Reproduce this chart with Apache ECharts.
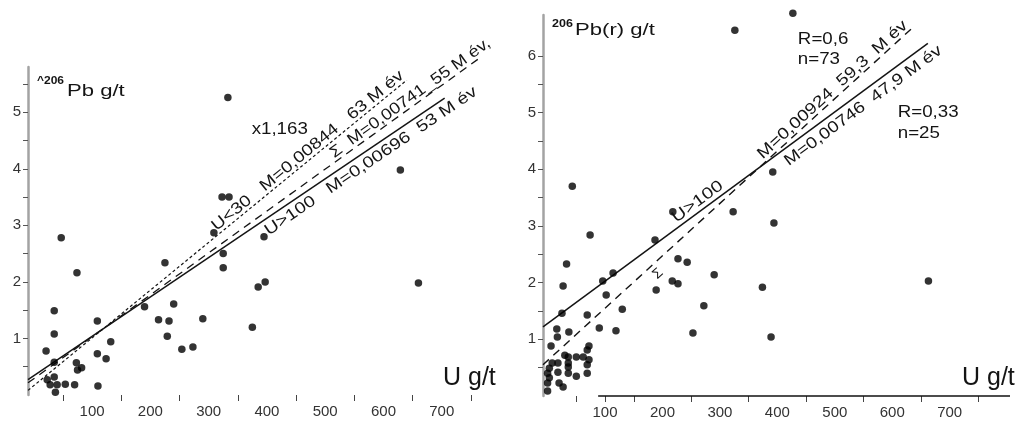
<!DOCTYPE html>
<html>
<head>
<meta charset="utf-8">
<script src="https://cdn.jsdelivr.net/npm/echarts@6/dist/echarts.min.js"></script>
<style>
  html, body { margin: 0; padding: 0; background: #fff; }
  #c { width: 1020px; height: 421px; }
</style>
</head>
<body>
<div id="c"></div>
<script>
// ---- data: left panel, 206Pb vs U (g/t) ----
const leftU  = [47, 74, 35, 35, 21, 35, 23, 28, 35, 37, 40, 54, 70, 73, 75, 82,
                109, 109, 110, 124, 132, 190, 214, 225, 232, 229, 240, 254, 273, 290,
                309, 325, 325, 375, 385, 397, 395, 660, 333, 323, 335, 629];
const leftPb = [2.78, 2.16, 1.49, 1.08, 0.78, 0.58, 0.27, 0.18, 0.32, 0.05, 0.18, 0.19, 0.18, 0.57, 0.44, 0.48,
                1.31, 0.73, 0.16, 0.64, 0.94, 1.56, 1.33, 2.34, 1.31, 1.04, 1.61, 0.81, 0.85, 1.35,
                2.87, 2.50, 2.25, 1.20, 1.91, 2.00, 2.80, 1.98, 5.26, 3.50, 3.50, 3.98];

// ---- data: right panel, radiogenic 206Pb vs U (g/t) ----
const rightU  = [218, 323, 394, 74, 187, 33, 27, 96, 114, 102, 290, 243, 227, 217, 227, 189, 374, 663,
                 272, 130, 25, 69, 253, 389, 119, 90, 37, 16, 17, 6, 72, 69, 30, 36, 50, 62, 72,
                 8, 18, 36, 69, 3, 18, 36, 36, 69, 50, 0, 3, 0, 20, 27, 0, 326, 427, 43, 392];
const rightPb = [3.25, 3.25, 3.05, 2.84, 2.75, 2.33, 1.94, 2.03, 2.17, 1.78, 2.14, 2.36, 2.42, 2.03, 1.98, 1.87, 1.92, 2.03,
                 1.59, 1.53, 1.46, 1.43, 1.11, 1.04, 1.15, 1.20, 1.13, 1.18, 1.04, 0.88, 0.88, 0.81, 0.72, 0.69, 0.69, 0.69, 0.64,
                 0.58, 0.58, 0.58, 0.55, 0.49, 0.42, 0.51, 0.40, 0.40, 0.35, 0.40, 0.32, 0.23, 0.23, 0.16, 0.09, 6.45, 6.75, 3.70, 3.95];

// ---- fitted lines: slope M from the labels, one point on each line, U span ----
const leftFitSlope  = [0.00844, 0.00741, 0.00696];   // U<30, Σ, U>100
const leftFitMidU   = [318, 378, 347.5];
const leftFitMidPb  = [2.85, 3.09, 2.76];
const leftFitStartU = [-10, -10, -10];
const leftFitEndU   = [640, 766, 705];

const rightFitSlope  = [0.00746, 0.00924];           // U>100, Σ
const rightFitMidU   = [327, 315.5];
const rightFitMidPb  = [3.72, 3.54];
const rightFitStartU = [-8, -8];
const rightFitEndU   = [662, 639];

// ---- axis ticks and labels ----
const leftXTicks   = [50, 150, 250, 350, 450, 550, 650, 750];
const rightXTicks  = [50, 100, 150, 250, 350, 450, 550, 650, 750];
const xLabels      = [100, 200, 300, 400, 500, 600, 700];
const leftYTicks   = [0.5, 1, 1.5, 2, 2.5, 3, 3.5, 4, 4.5, 5, 5.5];
const leftYLabels  = [1, 2, 3, 4, 5];
const rightYTicks  = [0.5, 1, 1.5, 2, 2.5, 3, 3.5, 4, 4.5, 5, 5.5, 6];
const rightYLabels = [1, 2, 3, 4, 5, 6];
const rightBaseU   = [88, 805];   // extent of the drawn U axis line on the right panel

const FONT = '"Liberation Sans", Arial, Helvetica, sans-serif';
const INK = '#141414';

function pairs(xs, ys) { return xs.map((x, i) => [x, ys[i]]); }
function fitEnds(slope, mu, mv, u0, u1, i) {
  return [[u0[i], mv[i] + slope[i] * (u0[i] - mu[i])],
          [u1[i], mv[i] + slope[i] * (u1[i] - mu[i])]];
}

const leftFits  = [0, 1, 2].map(i => fitEnds(leftFitSlope, leftFitMidU, leftFitMidPb, leftFitStartU, leftFitEndU, i));
const rightFits = [0, 1].map(i => fitEnds(rightFitSlope, rightFitMidU, rightFitMidPb, rightFitStartU, rightFitEndU, i));

function xAxisCfg(grid, min, max, ticks) {
  return {
    type: 'value', gridIndex: grid, min: min, max: max,
    axisLine: { show: false, onZero: false },
    splitLine: { show: false },
    axisTick: { show: true, customValues: ticks, length: 6, lineStyle: { color: '#444', width: 1 } },
    axisLabel: { customValues: xLabels, fontSize: 15, color: '#333', fontFamily: FONT, margin: 9 }
  };
}
function yAxisCfg(grid, max, ticks, labels) {
  return {
    type: 'value', gridIndex: grid, min: 0, max: max,
    axisLine: { show: true, onZero: false, lineStyle: { color: '#a3a3a3', width: 2.5 } },
    splitLine: { show: false },
    axisTick: { show: true, customValues: ticks, length: 5, lineStyle: { color: '#555', width: 1 } },
    axisLabel: { customValues: labels, fontSize: 15, color: '#333', fontFamily: FONT, margin: 7 }
  };
}

const lineBase = { type: 'line', showSymbol: false, symbol: 'none', clip: false, silent: true, z: 3 };
const dot = { type: 'scatter', symbol: 'circle', symbolSize: 7.5, clip: false,
              itemStyle: { color: '#000' }, z: 4 };

const chart = echarts.init(document.getElementById('c'), null, { renderer: 'canvas' });

chart.setOption({
  animation: false,
  backgroundColor: '#fff',
  grid: [
    { left: 28, top: 67, width: 472, height: 328 },
    { left: 543, top: 15, width: 467, height: 381 }
  ],
  xAxis: [xAxisCfg(0, -10, 800, leftXTicks), xAxisCfg(1, -8, 805, rightXTicks)],
  yAxis: [yAxisCfg(0, 5.8, leftYTicks, leftYLabels), yAxisCfg(1, 6.72, rightYTicks, rightYLabels)],
  series: [
    Object.assign({}, dot, { xAxisIndex: 0, yAxisIndex: 0, data: pairs(leftU, leftPb) }),
    Object.assign({}, lineBase, { xAxisIndex: 0, yAxisIndex: 0, data: leftFits[0],
      lineStyle: { color: INK, width: 1.2, type: [3, 2.5] } }),
    Object.assign({}, lineBase, { xAxisIndex: 0, yAxisIndex: 0, data: leftFits[1],
      lineStyle: { color: INK, width: 1.3, type: [8, 6] } }),
    Object.assign({}, lineBase, { xAxisIndex: 0, yAxisIndex: 0, data: leftFits[2],
      lineStyle: { color: INK, width: 1.5, type: 'solid' } }),

    Object.assign({}, dot, { xAxisIndex: 1, yAxisIndex: 1, data: pairs(rightU, rightPb) }),
    Object.assign({}, lineBase, { xAxisIndex: 1, yAxisIndex: 1, data: rightFits[0],
      lineStyle: { color: INK, width: 1.5, type: 'solid' } }),
    Object.assign({}, lineBase, { xAxisIndex: 1, yAxisIndex: 1, data: rightFits[1],
      lineStyle: { color: INK, width: 1.4, type: [8, 6] } }),
    Object.assign({}, lineBase, { xAxisIndex: 1, yAxisIndex: 1,
      data: [[rightBaseU[0], 0], [rightBaseU[1], 0]],
      lineStyle: { color: '#111', width: 1.5, type: 'solid' } })
  ]
});

// ---- labels written along the fitted lines: position U on the line, offset (px, + = above) ----
const lineNotes = [
  { g: 0, fit: leftFits[0],  u: 479,   off: 8,   text: 'U<30   M=0,00844   63 M év', sx: 1.2 },
  { g: 0, fit: leftFits[1],  u: 654,   off: 8,   text: '\u03A3  M=0,00741_55 M év,', sx: 1.15 },
  { g: 0, fit: leftFits[2],  u: 568,   off: -11, text: 'U>100   M=0,00696  53 M év', sx: 1.22 },
  { g: 1, fit: rightFits[0], u: 270.5, off: 9,   text: 'U>100', sx: 1.25 },
  { g: 1, fit: rightFits[1], u: 505.6, off: 8,   text: 'M=0,00924  59,3  M év', sx: 1.2 },
  { g: 1, fit: rightFits[0], u: 537,   off: -12, text: 'M=0,00746  47,9 M év', sx: 1.2 },
  { g: 1, fit: rightFits[1], u: 180,   off: -10, text: '\u03A3', sx: 1, size: 14 }
];
// free-standing notes, anchored in data space
const plainNotes = [
  { g: 0, at: [422, 4.69],   text: 'x1,163', align: 'center' },
  { g: 1, at: [435.7, 6.28], text: 'R=0,6',  align: 'left' },
  { g: 1, at: [435.7, 5.93], text: 'n=73',   align: 'left' },
  { g: 1, at: [609.6, 4.99], text: 'R=0,33', align: 'left' },
  { g: 1, at: [609.6, 4.62], text: 'n=25',   align: 'left' }
];

const graphics = [];
lineNotes.forEach(n => {
  const a = chart.convertToPixel({ gridIndex: n.g }, n.fit[0]);
  const b = chart.convertToPixel({ gridIndex: n.g }, n.fit[1]);
  const th = Math.atan2(b[1] - a[1], b[0] - a[0]);
  const t = (n.u - n.fit[0][0]) / (n.fit[1][0] - n.fit[0][0]);
  const px = a[0] + t * (b[0] - a[0]), py = a[1] + t * (b[1] - a[1]);
  const nx = Math.sin(th), ny = -Math.cos(th);
  graphics.push({
    type: 'text', x: px + n.off * nx, y: py + n.off * ny, rotation: -th, scaleX: n.sx, z: 10,
    style: { text: n.text, fontSize: n.size || 16, fontFamily: FONT, fill: INK,
             align: 'center', verticalAlign: 'middle' }
  });
});
plainNotes.forEach(n => {
  const p = chart.convertToPixel({ gridIndex: n.g }, n.at);
  graphics.push({
    type: 'text', x: p[0], y: p[1], scaleX: 1.17, z: 10,
    style: { text: n.text, fontSize: 16, fontFamily: FONT, fill: INK,
             align: n.align, verticalAlign: 'middle' }
  });
});

// axis titles
function label(x, y, text, size, opts) {
  return Object.assign({
    type: 'text', x: x, y: y, z: 10,
    style: Object.assign({ text: text, fontSize: size, fontFamily: FONT, fill: INK,
                           align: 'left', verticalAlign: 'middle' }, opts && opts.style)
  }, opts && opts.el);
}
graphics.push(
  label(37, 81, '^206', 10, { style: { fontWeight: 'bold' }, el: { scaleX: 1.2 } }),
  label(67, 91, 'Pb g/t', 17, { el: { scaleX: 1.3 } }),
  label(552, 24, '206', 10, { style: { fontWeight: 'bold' }, el: { scaleX: 1.25 } }),
  label(575, 30, 'Pb(r) g/t', 17, { el: { scaleX: 1.3 } }),
  label(443, 378, 'U g/t', 25),
  label(962, 378, 'U g/t', 25)
);

chart.setOption({ graphic: graphics });
</script>
</body>
</html>
